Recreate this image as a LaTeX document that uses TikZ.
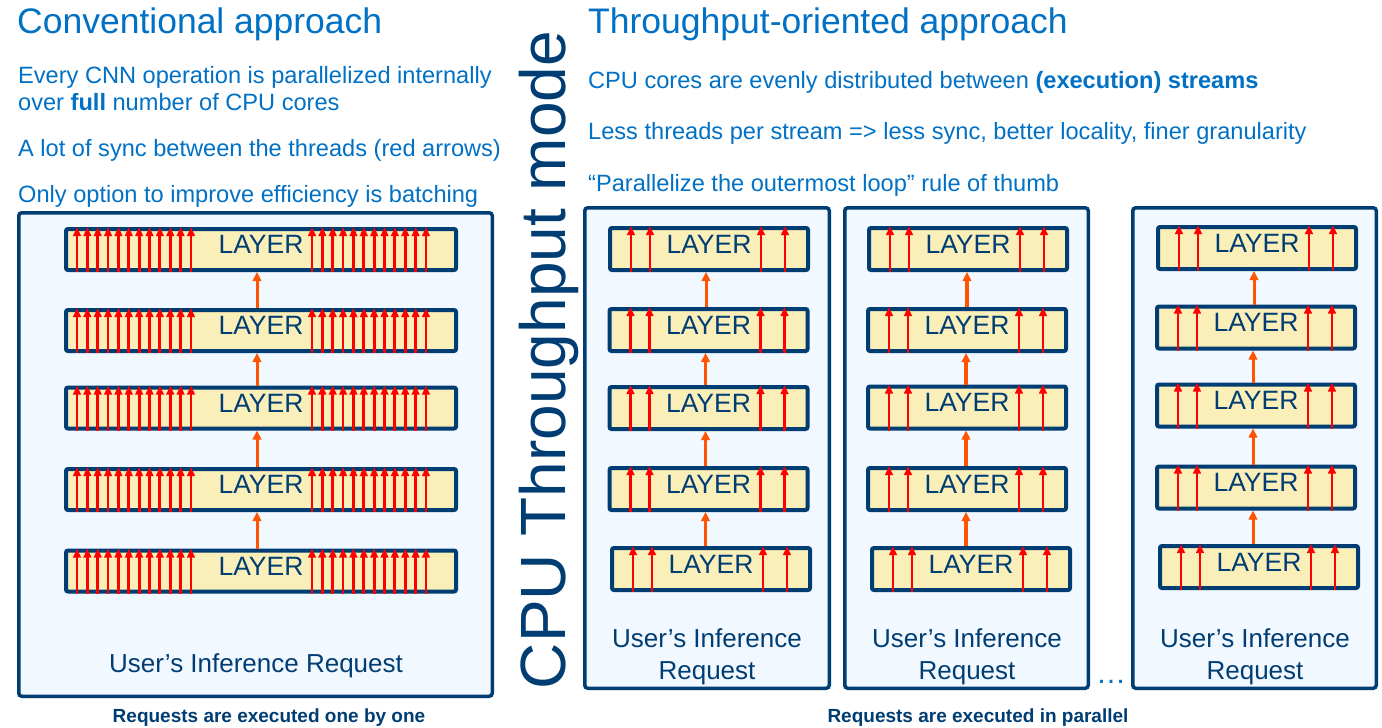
\documentclass[tikz,border=0pt]{standalone}
\usepackage{fontspec}
\setmainfont{Liberation Sans}
\usetikzlibrary{arrows.meta,calc}
\definecolor{tblue}{RGB}{0,113,197}
\definecolor{dblue}{RGB}{0,61,115}
\definecolor{boxfill}{RGB}{242,248,255}
\definecolor{layfill}{RGB}{250,238,185}
\definecolor{redar}{RGB}{255,0,0}
\definecolor{orar}{RGB}{255,85,0}
\begin{document}
\begin{tikzpicture}[x=1pt,y=-1pt,
  bigbox/.style={draw=dblue, line width=3.5pt, fill=boxfill, rounded corners=3pt, inner sep=0pt},
  layertext/.style={text=dblue, font=\fontsize{26.5}{31}\selectfont, inner sep=0pt, yshift=5pt},
  layerbox/.style={draw=dblue, line width=4pt, fill=layfill, rounded corners=2pt, inner sep=0pt,
    label={[layertext]center:LAYER}},
  wide/.style={layerbox, minimum width=390pt, minimum height=41pt},
  narrow/.style={layerbox, minimum width=198pt, minimum height=42pt},
  redarrow/.style={draw=redar, line width=2.8pt, -{Triangle[length=9pt,width=7.5pt]}},
  orarrow/.style={draw=orar, line width=3pt, -{Triangle[length=9pt,width=8.5pt]}},
  titletext/.style={anchor=base west, inner sep=0pt, text=tblue, font=\fontsize{35.5}{42}\selectfont},
  bodytext/.style={anchor=base west, inner sep=0pt, text=tblue, font=\fontsize{23.6}{28}\selectfont},
  reqtext/.style={inner sep=0pt, text=dblue, font=\fontsize{26}{31}\selectfont, align=center},
  captext/.style={anchor=base, inner sep=0pt, text=dblue, font=\bfseries\fontsize{19}{23}\selectfont},
]
\useasboundingbox[fill=white] (0,0) rectangle (1382,728);

% ---------- texts ----------
\node[titletext] (t1) at (17,33) {Conventional approach};
\node[bodytext] (b1) at (18,83) {Every CNN operation is parallelized internally};
\node[bodytext] (b2) at (18,110) {over \textbf{full} number of CPU cores};
\node[bodytext] (b3) at (18,156) {A lot of sync between the threads (red arrows)};
\node[bodytext] (b4) at (18,202) {Only option to improve efficiency is batching};

\node[titletext] (t2) at (588,33) {Throughput-oriented approach};
\node[bodytext] (r1) at (588,88) {CPU cores are evenly distributed between \textbf{(execution) streams}};
\node[bodytext] (r2) at (588,139) {Less threads per stream => less sync, better locality, finer granularity};
\node[bodytext] (r3) at (588,191) {“Parallelize the outermost loop” rule of thumb};

\node[rotate=90, anchor=base, inner sep=0pt, text=dblue, font=\fontsize{64}{70}\selectfont] (vt) at (565,360) {CPU Throughput mode};

% ---------- big boxes ----------
\node[bigbox, minimum width=473.5pt, minimum height=483.5pt] (B0) at (255.5,454.5) {};
\node[bigbox, minimum width=244.5pt, minimum height=480.5pt] (B1) at (707,448) {};
\node[bigbox, minimum width=243.5pt, minimum height=480.5pt] (B2) at (966.5,448) {};
\node[bigbox, minimum width=243.5pt, minimum height=480.5pt] (B3) at (1254.5,448) {};

% ---------- left layers ----------
\node[wide] (L1) at (261,249.5) {};
\node[wide] (L2) at (261,330.5) {};
\node[wide] (L3) at (261,408) {};
\node[wide] (L4) at (261,489.5) {};
\node[wide] (L5) at (261,571) {};

\foreach \n in {L1,L2,L3,L4,L5}{
  \foreach \i in {0,...,11}{
    \draw[redarrow] ([xshift={13+10.36*\i}]\n.south west) -- ([xshift={13+10.36*\i}]\n.north west);
    \draw[redarrow] ([xshift={248+10.36*\i}]\n.south west) -- ([xshift={248+10.36*\i}]\n.north west);
  }
}
\foreach \a/\b in {L2/L1,L3/L2,L4/L3,L5/L4}{
  \draw[orarrow] ([xshift=-4pt]\b.south |- \a.north) -- ([xshift=-4pt]\b.south);
}

% ---------- stream layers ----------
\node[narrow] (P1) at (709,249) {};
\node[narrow] (P2) at (708.5,330) {};
\node[narrow] (P3) at (708.5,408) {};
\node[narrow] (P4) at (708.5,489) {};
\node[narrow] (P5) at (711,569) {};

\node[narrow] (Q1) at (968,249) {};
\node[narrow] (Q2) at (967,330) {};
\node[narrow] (Q3) at (967,407.5) {};
\node[narrow] (Q4) at (967,489) {};
\node[narrow] (Q5) at (971,569) {};

\node[narrow] (R1) at (1257,248) {};
\node[narrow] (R2) at (1256,327.5) {};
\node[narrow] (R3) at (1256,405.5) {};
\node[narrow] (R4) at (1256,487.5) {};
\node[narrow] (R5) at (1259,567) {};

\foreach \n in {P1,P2,P3,P4,P5,Q1,Q2,Q3,Q4,Q5,R1,R2,R3,R4,R5}{
  \foreach \d in {23,42,153,177}{
    \draw[redarrow] ([xshift=\d pt]\n.south west) -- ([xshift=\d pt]\n.north west);
  }
}
\foreach \a/\b in {P2/P1,P3/P2,P4/P3,P5/P4}{
  \draw[orarrow] ([xshift=-3pt]\b.south |- \a.north) -- ([xshift=-3pt]\b.south);
}
\foreach \a/\b in {Q2/Q1,Q3/Q2,Q4/Q3,Q5/Q4}{
  \draw[orarrow, line width=4.5pt] ([xshift=-1pt]\b.south |- \a.north) -- ([xshift=-1pt]\b.south);
}
\foreach \a/\b in {R2/R1,R3/R2,R4/R3,R5/R4}{
  \draw[orarrow] ([xshift=-3pt]\b.south |- \a.north) -- ([xshift=-3pt]\b.south);
}

% ---------- request labels ----------
\node[reqtext, anchor=base] (u0) at (256,672) {User’s Inference Request};
\node[reqtext] (u1) at (707,657) {User’s Inference\\[1pt]Request};
\node[reqtext] (u2) at (967,657) {User’s Inference\\[1pt]Request};
\node[reqtext] (u3) at (1255,657) {User’s Inference\\[1pt]Request};

\node[anchor=base, inner sep=0pt, text=tblue, font=\fontsize{30}{36}\selectfont] (dots) at (1111,683) {…};

\node[captext] (c1) at (269,722) {Requests are executed one by one};
\node[captext] (c2) at (978,722) {Requests are executed in parallel};
\end{tikzpicture}
\end{document}
